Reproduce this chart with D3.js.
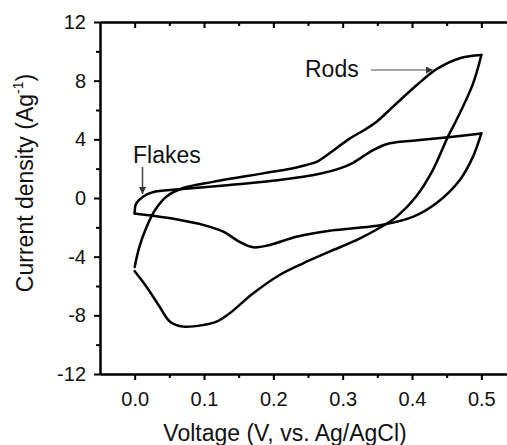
<!DOCTYPE html>
<html>
<head>
<meta charset="utf-8">
<script src="https://cdn.jsdelivr.net/npm/d3@7"></script>
<style>
  html, body { margin: 0; padding: 0; background: #fff; }
  svg { display: block; font-family: "Liberation Sans", Arial, sans-serif; }
</style>
</head>
<body>
<div id="chart"></div>
<script>
// Cyclic voltammograms: [voltage (V), current density (A/g)]
const rodsForward = [
  [0.000, -4.7], [0.007, -3.3], [0.017, -2.0], [0.029, -0.85], [0.046, 0.1],
  [0.070, 0.68], [0.113, 1.1], [0.185, 1.68], [0.225, 2.0], [0.248, 2.25],
  [0.264, 2.5], [0.281, 3.05], [0.310, 4.05], [0.330, 4.6], [0.349, 5.2],
  [0.372, 6.2], [0.407, 7.7], [0.436, 8.8], [0.470, 9.55], [0.500, 9.75]
]
const rodsReverse = [
  [0.500, 9.75], [0.488, 7.8], [0.464, 5.3], [0.452, 4.2], [0.430, 1.9],
  [0.406, 0.1], [0.378, -1.27], [0.356, -1.96], [0.325, -2.75], [0.281, -3.66],
  [0.243, -4.45], [0.209, -5.25], [0.171, -6.5], [0.137, -7.86], [0.118, -8.43],
  [0.099, -8.66], [0.070, -8.77], [0.051, -8.43], [0.036, -7.41], [0.017, -6.05],
  [0.000, -5.0]
]
const flakesForward = [
  [0.000, -1.05], [0.002, -0.4], [0.012, 0.09], [0.026, 0.39], [0.065, 0.59],
  [0.137, 0.89], [0.209, 1.23], [0.267, 1.65], [0.295, 2.0], [0.315, 2.4],
  [0.344, 3.27], [0.368, 3.73], [0.411, 3.95], [0.459, 4.18], [0.500, 4.4]
]
const flakesReverse = [
  [0.500, 4.4], [0.488, 2.82], [0.469, 1.23], [0.435, -0.36], [0.402, -1.27],
  [0.356, -1.84], [0.315, -2.07], [0.281, -2.23], [0.233, -2.64], [0.195, -3.2],
  [0.171, -3.36], [0.150, -2.95], [0.128, -2.3], [0.100, -1.85], [0.060, -1.45],
  [0.025, -1.2], [0.000, -1.05]
]

const xMajor = [0.0, 0.1, 0.2, 0.3, 0.4, 0.5]
const xMinor = [0.05, 0.15, 0.25, 0.35, 0.45]
const yMajor = [-12, -8, -4, 0, 4, 8, 12]
const yMinor = [-10, -6, -2, 2, 6, 10]

const width = 507
const height = 445

const x = d3.scaleLinear().domain([-0.05, 0.55]).range([100, 516])
const y = d3.scaleLinear().domain([-12, 12]).range([374, 22])

const svg = d3.select("#chart").append("svg")
  .attr("width", width)
  .attr("height", height)

// arrow marker
svg.append("defs").append("marker")
  .attr("id", "head")
  .attr("viewBox", "0 0 10 10")
  .attr("refX", 10).attr("refY", 5)
  .attr("markerWidth", 9).attr("markerHeight", 7)
  .attr("markerUnits", "userSpaceOnUse")
  .attr("orient", "auto")
  .append("path")
  .attr("d", "M0,0 L10,5 L0,10 Z")
  .attr("fill", "#333")

function styleAxis(g) {
  g.selectAll(".domain").attr("stroke", "#000").attr("stroke-width", 2)
  g.selectAll(".tick line").attr("stroke", "#000").attr("stroke-width", 2)
  g.selectAll("text").attr("fill", "#111").attr("font-size", "20px")
    .attr("font-family", "Liberation Sans, Arial, sans-serif")
}

// bottom axis
svg.append("g")
  .attr("transform", `translate(0,${y(-12)})`)
  .call(d3.axisBottom(x).tickValues(xMajor).tickSize(6).tickSizeOuter(0)
    .tickPadding(12).tickFormat(d3.format(".1f")))
  .call(styleAxis)
svg.append("g")
  .attr("transform", `translate(0,${y(-12)})`)
  .call(d3.axisBottom(x).tickValues(xMinor).tickSize(4).tickSizeOuter(0).tickFormat(""))
  .call(styleAxis)

// top axis, ticks inward
svg.append("g")
  .attr("transform", `translate(0,${y(12)})`)
  .call(d3.axisBottom(x).tickValues(xMajor).tickSize(6).tickSizeOuter(0).tickFormat(""))
  .call(styleAxis)
svg.append("g")
  .attr("transform", `translate(0,${y(12)})`)
  .call(d3.axisBottom(x).tickValues(xMinor).tickSize(4).tickSizeOuter(0).tickFormat(""))
  .call(styleAxis)

// left axis
svg.append("g")
  .attr("transform", `translate(${x(-0.05)},0)`)
  .call(d3.axisLeft(y).tickValues(yMajor).tickSize(6).tickSizeOuter(0)
    .tickPadding(8).tickFormat(d => String(d)))
  .call(styleAxis)
svg.append("g")
  .attr("transform", `translate(${x(-0.05)},0)`)
  .call(d3.axisLeft(y).tickValues(yMinor).tickSize(4).tickSizeOuter(0).tickFormat(""))
  .call(styleAxis)

// right axis (falls just outside the picture)
svg.append("g")
  .attr("transform", `translate(${x(0.55)},0)`)
  .call(d3.axisLeft(y).tickValues(yMajor).tickSize(-6).tickSizeOuter(0).tickFormat(""))
  .call(styleAxis)

// curves
const line = d3.line()
  .x(d => x(d[0]))
  .y(d => y(d[1]))
  .curve(d3.curveCatmullRom.alpha(0.5))

const branches = [rodsForward, rodsReverse, flakesForward, flakesReverse]
svg.append("g")
  .selectAll("path")
  .data(branches)
  .join("path")
  .attr("d", line)
  .attr("fill", "none")
  .attr("stroke", "#000")
  .attr("stroke-width", 2.5)
  .attr("stroke-linejoin", "round")
  .attr("stroke-linecap", "round")

// annotations
svg.append("text")
  .attr("x", 305).attr("y", 77)
  .attr("font-size", "23px").attr("fill", "#111")
  .text("Rods")
svg.append("line")
  .attr("x1", 371).attr("y1", 70).attr("x2", 433).attr("y2", 70)
  .attr("stroke", "#888").attr("stroke-width", 1.5)
  .attr("marker-end", "url(#head)")

svg.append("text")
  .attr("x", 133).attr("y", 163)
  .attr("font-size", "23px").attr("fill", "#111")
  .text("Flakes")
svg.append("line")
  .attr("x1", 142.5).attr("y1", 167).attr("x2", 142.5).attr("y2", 194)
  .attr("stroke", "#444").attr("stroke-width", 1.5)
  .attr("marker-end", "url(#head)")

// axis titles
svg.append("text")
  .attr("x", 285).attr("y", 441)
  .attr("text-anchor", "middle")
  .attr("font-size", "23px").attr("fill", "#111")
  .text("Voltage (V, vs. Ag/AgCl)")

const yt = svg.append("text")
  .attr("transform", `translate(33,183) rotate(-90)`)
  .attr("text-anchor", "middle")
  .attr("font-size", "23px").attr("fill", "#111")
yt.append("tspan").text("Current density (Ag")
yt.append("tspan").attr("font-size", "14px").attr("dy", -10).text("-1")
yt.append("tspan").attr("dy", 10).text(")")
</script>
</body>
</html>
